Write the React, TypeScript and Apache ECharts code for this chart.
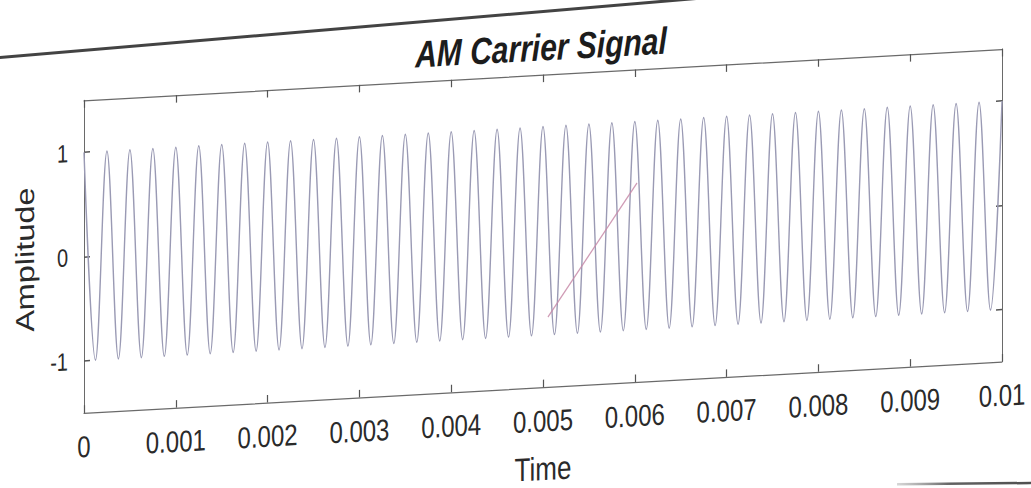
import React, { useEffect, useRef } from "react";
import * as echarts from "echarts";

// Carrier extrema: one peak or trough every 0.125 ms (4 cycles per ms)
const carrierTime = [
  0, 0.000125, 0.00025, 0.000375, 0.0005, 0.000625, 0.00075, 0.000875,
  0.001, 0.001125, 0.00125, 0.001375, 0.0015, 0.001625, 0.00175, 0.001875,
  0.002, 0.002125, 0.00225, 0.002375, 0.0025, 0.002625, 0.00275, 0.002875,
  0.003, 0.003125, 0.00325, 0.003375, 0.0035, 0.003625, 0.00375, 0.003875,
  0.004, 0.004125, 0.00425, 0.004375, 0.0045, 0.004625, 0.00475, 0.004875,
  0.005, 0.005125, 0.00525, 0.005375, 0.0055, 0.005625, 0.00575, 0.005875,
  0.006, 0.006125, 0.00625, 0.006375, 0.0065, 0.006625, 0.00675, 0.006875,
  0.007, 0.007125, 0.00725, 0.007375, 0.0075, 0.007625, 0.00775, 0.007875,
  0.008, 0.008125, 0.00825, 0.008375, 0.0085, 0.008625, 0.00875, 0.008875,
  0.009, 0.009125, 0.00925, 0.009375, 0.0095, 0.009625, 0.00975, 0.009875,
  0.01,
];
const carrierLevel = [
  1, -1, 1, -1, 1, -1, 1, -1,
  1, -1, 1, -1, 1, -1, 1, -1,
  1, -1, 1, -1, 1, -1, 1, -1,
  1, -1, 1, -1, 1, -1, 1, -1,
  1, -1, 1, -1, 1, -1, 1, -1,
  1, -1, 1, -1, 1, -1, 1, -1,
  1, -1, 1, -1, 1, -1, 1, -1,
  1, -1, 1, -1, 1, -1, 1, -1,
  1, -1, 1, -1, 1, -1, 1, -1,
  1, -1, 1, -1, 1, -1, 1, -1,
  1,
];

// Stray pen stroke across the middle of the plot
const penStrokeTime = [0.005054, 0.006024];
const penStrokeLevel = [-0.83, 0.41];

const xTicks = [0, 0.001, 0.002, 0.003, 0.004, 0.005, 0.006, 0.007, 0.008, 0.009, 0.01];
const yTicks = [-1, 0, 1];

const FONT = "'Liberation Sans', Arial, Helvetica, sans-serif";
const AXIS_COLOR = "#6a6a6a";
const TEXT_COLOR = "#2a2a2a";

export default function App() {
  const ref = useRef<HTMLDivElement>(null);

  useEffect(() => {
    if (!ref.current) return;
    const chart = echarts.init(ref.current, undefined, { renderer: "svg" });

    const carrier = carrierTime.map((t, i) => [t, carrierLevel[i]]);
    const stroke = penStrokeTime.map((t, i) => [t, penStrokeLevel[i]]);

    const boxAxisX = {
      type: "value" as const,
      min: 0,
      max: 0.01,
      axisLine: { show: true, onZero: false, lineStyle: { color: AXIS_COLOR, width: 1 } },
      axisTick: {
        show: true,
        inside: true,
        length: 6,
        customValues: xTicks,
        lineStyle: { color: "#555", width: 1.2 },
      },
      splitLine: { show: false },
    };
    const boxAxisY = {
      type: "value" as const,
      min: -1.5,
      max: 1.5,
      axisLine: { show: true, onZero: false, lineStyle: { color: AXIS_COLOR, width: 1 } },
      axisTick: {
        show: true,
        inside: true,
        length: 6,
        customValues: yTicks,
        lineStyle: { color: "#555", width: 1.2 },
      },
      splitLine: { show: false },
    };

    chart.setOption({
      animation: false,
      backgroundColor: "#ffffff",
      title: {
        text: "AM Carrier Signal",
        left: 536,
        top: 18,
        textAlign: "center",
        textStyle: {
          fontFamily: FONT,
          fontSize: 30,
          fontWeight: "bold",
          fontStyle: "italic",
          color: "#1c1c1c",
        },
      },
      grid: { left: 84, top: 60, width: 918, height: 250, containLabel: false },
      xAxis: [
        {
          ...boxAxisX,
          position: "bottom",
          name: "Time",
          nameLocation: "middle",
          nameGap: 52,
          nameTextStyle: { fontFamily: FONT, fontSize: 26, color: TEXT_COLOR },
          axisLabel: {
            customValues: xTicks,
            margin: 15,
            fontFamily: FONT,
            fontSize: 24,
            color: TEXT_COLOR,
          },
        },
        {
          ...boxAxisX,
          position: "top",
          axisLabel: { show: false },
        },
      ],
      yAxis: [
        {
          ...boxAxisY,
          position: "left",
          name: "Amplitude",
          nameLocation: "middle",
          nameGap: 46,
          nameTextStyle: { fontFamily: FONT, fontSize: 26, color: TEXT_COLOR },
          axisLabel: {
            customValues: yTicks,
            margin: 16,
            fontFamily: FONT,
            fontSize: 20,
            color: TEXT_COLOR,
          },
        },
        {
          ...boxAxisY,
          position: "right",
          axisLabel: { show: false },
        },
      ],
      graphic: [
        {
          type: "line",
          shape: { x1: 0, y1: 22, x2: 780, y2: 4 },
          style: { stroke: "#2f2f2f", lineWidth: 2.4, opacity: 0.9 },
          silent: true,
        },
        {
          type: "line",
          shape: { x1: 897, y1: 403.5, x2: 1031, y2: 408.5 },
          style: {
            stroke: new echarts.graphic.LinearGradient(0, 0, 1, 0, [
              { offset: 0, color: "rgba(120,120,120,0.3)" },
              { offset: 0.4, color: "rgba(70,70,70,0.85)" },
              { offset: 1, color: "rgba(60,60,60,0.9)" },
            ]),
            lineWidth: 2,
          },
          silent: true,
        },
      ],
      series: [
        {
          type: "line",
          name: "carrier",
          data: carrier,
          smooth: 0.36,
          showSymbol: false,
          lineStyle: { color: "#9a9ab4", width: 1.4 },
          z: 2,
        },
        {
          type: "line",
          name: "stroke",
          data: stroke,
          showSymbol: false,
          lineStyle: { color: "#c78aa8", width: 1.2, opacity: 0.85 },
          z: 3,
        },
      ],
    });

    return () => chart.dispose();
  }, []);

  return (
    <div
      ref={ref}
      style={{
        position: "absolute",
        left: 0,
        top: 0,
        width: 1031,
        height: 410,
        transformOrigin: "0 0",
        transform: "matrix(1, -0.0559, 0, 1.25, 0, 30)",
      }}
    />
  );
}
